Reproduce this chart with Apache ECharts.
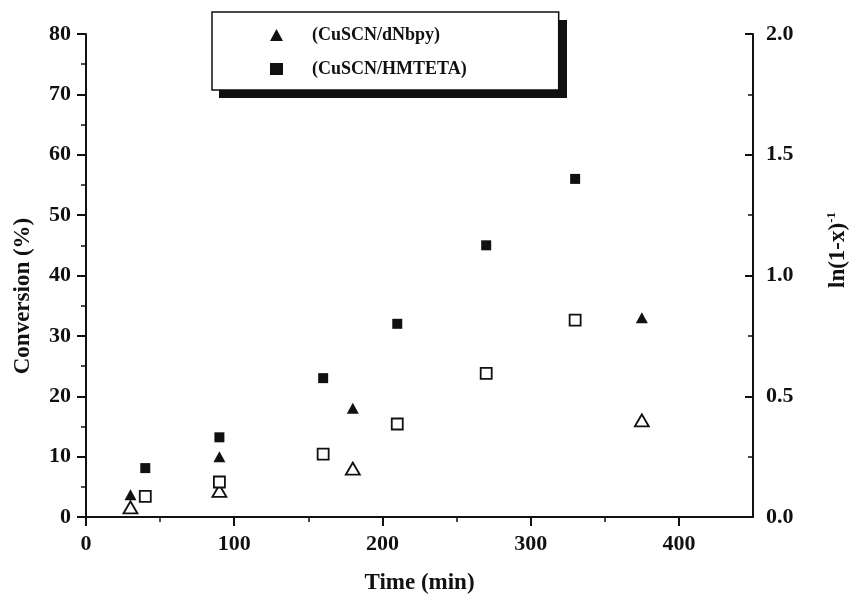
<!DOCTYPE html>
<html>
<head>
<meta charset="utf-8">
<script src="https://cdn.jsdelivr.net/npm/echarts@6/dist/echarts.min.js"></script>
<style>html,body{margin:0;padding:0;background:#fff}#c{width:852px;height:600px}</style>
</head>
<body>
<div id="c"></div>
<script>
// ---- data ----
var dNbpyConvTime = [30, 90, 180, 375];
var dNbpyConv = [3.7, 10, 18, 33];
var dNbpyLnTime = [30, 90, 180, 375];
var dNbpyLn = [0.04, 0.108, 0.2, 0.4];
var hmtetaConvTime = [40, 90, 160, 210, 270, 330];
var hmtetaConv = [8.1, 13.2, 23, 32, 45, 56];
var hmtetaLnTime = [40, 90, 160, 210, 270, 330];
var hmtetaLn = [0.085, 0.145, 0.26, 0.385, 0.595, 0.815];
var xMajorTicks = [0, 100, 200, 300, 400];
var xMinorTicks = [50, 150, 250, 350];
var legendNames = ['(CuSCN/dNbpy)', '(CuSCN/HMTETA)'];
var xTitle = 'Time (min)';
var yLeftTitle = 'Conversion (%)';
var yRightTitle = 'ln(1-x)';
var yRightSup = '-1';

function zip(a, b) { return a.map(function (v, i) { return [v, b[i]]; }); }

var FONT = '"Liberation Serif", "Times New Roman", serif';
var INK = '#111';

var chart = echarts.init(document.getElementById('c'), null, { renderer: 'canvas' });
chart.setOption({
  animation: false,
  backgroundColor: '#fff',
  grid: { left: 86, right: 99, top: 34, bottom: 79, containLabel: false },
  legend: {
    left: 212, top: 12, orient: 'vertical', z: 10,
    data: [{ name: legendNames[0], icon: 'triangle' }, { name: legendNames[1], icon: 'rect' }],
    itemWidth: 13, itemHeight: 12, itemGap: 14,
    padding: [13, 92, 11, 58],
    backgroundColor: '#fff', borderColor: INK, borderWidth: 1.5, borderRadius: 0,
    itemStyle: { opacity: 1 },
    textStyle: { fontFamily: FONT, fontWeight: 'bold', fontSize: 18, color: INK, lineHeight: 20, padding: [0, 0, 0, 24] },
    selectedMode: false
  },
  xAxis: [{
    type: 'value', min: 0, max: 450, interval: 100, position: 'bottom',
    name: xTitle, nameLocation: 'middle', nameGap: 55,
    nameTextStyle: { fontFamily: FONT, fontWeight: 'bold', fontSize: 23, color: INK },
    axisLine: { show: true, onZero: false, lineStyle: { color: INK, width: 2 } },
    axisTick: { show: true, inside: false, length: 9, lineStyle: { color: INK, width: 2 }, customValues: xMajorTicks },
    axisLabel: { fontFamily: FONT, fontWeight: 'bold', fontSize: 22, color: INK, margin: 16, customValues: xMajorTicks },
    splitLine: { show: false }
  }, {
    type: 'value', min: 0, max: 450, position: 'bottom',
    axisLine: { show: false },
    axisTick: { show: true, inside: false, length: 5, lineStyle: { color: INK, width: 1.5 }, customValues: xMinorTicks },
    axisLabel: { show: false },
    splitLine: { show: false }
  }],
  yAxis: [{
    type: 'value', min: 0, max: 80, interval: 10, position: 'left',
    axisLine: { show: true, onZero: false, lineStyle: { color: INK, width: 2 } },
    axisTick: { show: true, inside: false, length: 9, lineStyle: { color: INK, width: 2 } },
    minorTick: { show: true, splitNumber: 2, length: 5, lineStyle: { color: INK, width: 1.5 } },
    axisLabel: { fontFamily: FONT, fontWeight: 'bold', fontSize: 22, color: INK, margin: 15 },
    splitLine: { show: false }
  }, {
    type: 'value', min: 0, max: 2, interval: 0.5, position: 'right',
    axisLine: { show: true, onZero: false, lineStyle: { color: INK, width: 2 } },
    axisTick: { show: true, inside: true, length: 8, lineStyle: { color: INK, width: 2 } },
    minorTick: { show: true, splitNumber: 2, length: 5, lineStyle: { color: INK, width: 1.5 } },
    axisLabel: { fontFamily: FONT, fontWeight: 'bold', fontSize: 22, color: INK, margin: 13,
      formatter: function (v) { return v.toFixed(1); } },
    splitLine: { show: false }
  }],
  graphic: [{
    type: 'rect', z: 1, shape: { x: 219, y: 20, width: 348, height: 78 },
    style: { fill: '#111' }
  }, {
    type: 'text', x: 23, y: 296, rotation: Math.PI / 2,
    style: { text: yLeftTitle, font: 'bold 23px ' + FONT, fill: INK, align: 'center', verticalAlign: 'middle' }
  }, {
    type: 'text', x: 838, y: 250, rotation: Math.PI / 2,
    style: {
      text: yRightTitle + '{s|' + yRightSup + '}', font: 'bold 23px ' + FONT, fill: INK,
      align: 'center', verticalAlign: 'middle',
      rich: { s: { fontFamily: FONT, fontWeight: 'bold', fontSize: 13, fill: INK, verticalAlign: 'top', lineHeight: 26 } }
    }
  }],
  series: [{
    name: legendNames[0], type: 'scatter', xAxisIndex: 0, yAxisIndex: 0,
    symbol: 'triangle', symbolSize: [12, 11], itemStyle: { color: INK, opacity: 1 },
    data: zip(dNbpyConvTime, dNbpyConv), z: 3
  }, {
    name: legendNames[1], type: 'scatter', xAxisIndex: 0, yAxisIndex: 0,
    symbol: 'rect', symbolSize: 10, itemStyle: { color: INK, opacity: 1 },
    data: zip(hmtetaConvTime, hmtetaConv), z: 3
  }, {
    name: 'dNbpy ln', type: 'scatter', xAxisIndex: 0, yAxisIndex: 1,
    symbol: 'triangle', symbolSize: [14, 12], itemStyle: { color: '#fff', borderColor: INK, borderWidth: 1.8, opacity: 1 },
    data: zip(dNbpyLnTime, dNbpyLn), z: 2
  }, {
    name: 'HMTETA ln', type: 'scatter', xAxisIndex: 0, yAxisIndex: 1,
    symbol: 'rect', symbolSize: 11, itemStyle: { color: '#fff', borderColor: INK, borderWidth: 1.8, opacity: 1 },
    data: zip(hmtetaLnTime, hmtetaLn), z: 3
  }]
});
</script>
</body>
</html>
